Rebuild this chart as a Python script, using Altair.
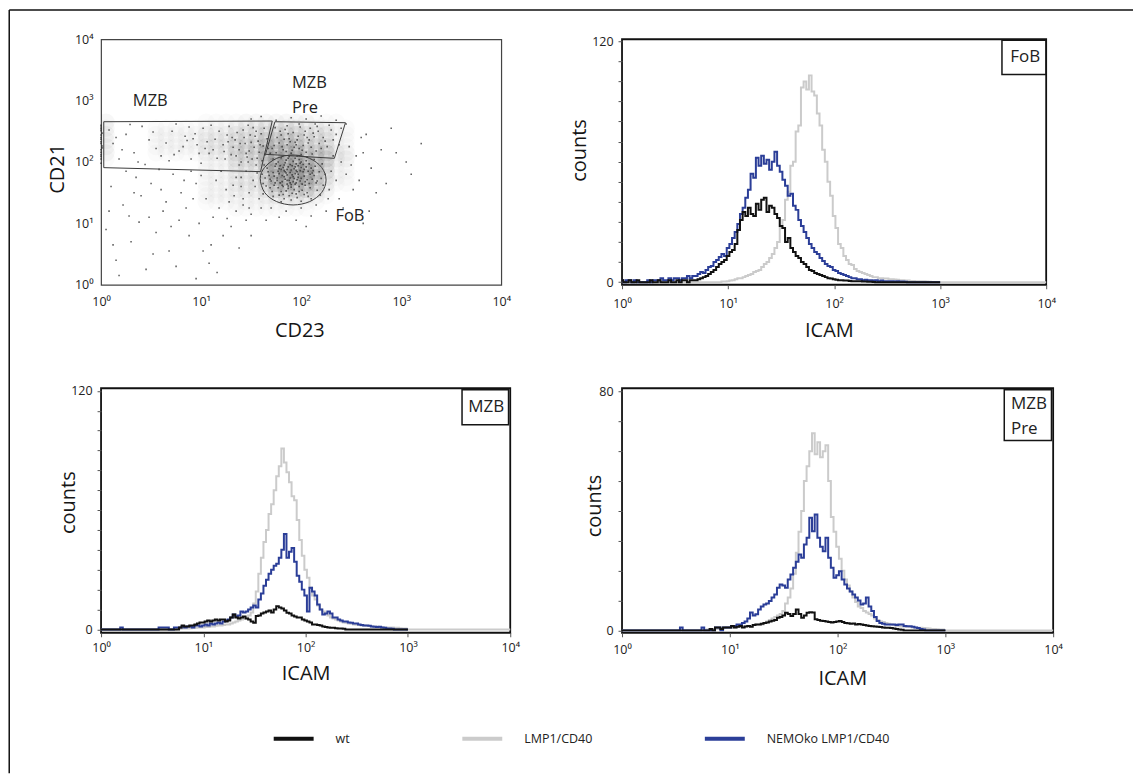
import altair as alt
import pandas as pd

FONT = "Open Sans"
INK = "#151515"

# ---------------- shared axis labelling ----------------
DECADES = [1, 10, 100, 1000, 10000]
DECADE_LABELS = ["10⁰", "10¹", "10²", "10³", "10⁴"]
LABEL_EXPR = "[" + ",".join("'%s'" % s for s in DECADE_LABELS) + "][round(log(datum.value) / LN10)]"

# ---------------- histogram data (log10 ICAM channels, 1/40 decade) ----------------
LOG_CHANNELS = [round(0.025 * i, 3) for i in range(161)]
Z20 = [0] * 20

FOB_NEMO = ([1, 0, 1, 1, 0, 1, 0, 0, 0, 0, 1, 0, 1, 1, 1, 2, 1, 1, 2, 1]
            + [2, 2, 1, 2, 2, 3, 2, 3, 3, 4, 5, 4.5, 6, 7.5, 8, 10, 11, 12.5, 14, 13]
            + [17, 19, 22, 25, 29, 34, 37, 42, 46, 54, 52, 62, 58, 63, 59, 61, 56, 60, 65, 58]
            + [55, 51, 48, 43, 44, 38, 36, 31, 28, 25, 22, 19, 17, 15, 14, 12, 10.5, 9, 8, 7.5]
            + [6, 5.5, 4.5, 4, 3.5, 3, 2.5, 2, 2, 1.5, 1.5, 1, 1.2, 1, 1, 0.8, 1, 0.5, 0.8, 0.5]
            + [0.5, 0.4, 0.5, 0.3, 0.4, 0.3, 0.3, 0.2, 0, 0, 0, 0, 0, 0, 0, 0, 0, 0, 0, 0]
            + [0])
FOB_WT = ([1, 0, 0, 1, 0, 0, 1, 0, 0, 0, 0, 1, 0, 0, 1, 0, 0, 0, 1, 0]
          + [0, 1, 0, 1, 1, 0, 1, 1, 1, 1.5, 2, 2.5, 3, 4, 5, 6, 7.5, 9, 10, 11]
          + [13, 15, 16, 19, 26, 31, 35, 33, 37, 34, 33, 39, 36, 41, 42, 35, 38, 37, 34, 32]
          + [28, 27, 20, 22, 17, 15, 13, 12, 10, 9, 7.5, 6, 5.5, 4.5, 4, 3.5, 3, 2.5, 2, 1.8]
          + [1.5, 1.2, 1, 1, 0.8, 0.8, 0.6, 0.5, 0.5, 0.4, 0.5, 0.3, 0.3, 0.2, 0.2, 0.1, 0, 0, 0, 0]
          + Z20 + [0])
FOB_LMP1 = (Z20
            + [0] * 18 + [0.3, 0.3]
            + [0.5, 0.8, 1, 1.5, 2, 2, 2.5, 3, 3.5, 4, 5, 5.5, 6, 7.5, 9, 10, 12, 14, 17, 20]
            + [27, 31, 41, 45, 58, 60, 75, 78, 97, 100, 96, 103, 95, 93, 84, 78, 66, 60, 50, 43]
            + [33, 27, 19, 17, 13, 11, 9, 8.5, 6.5, 5.5, 5, 4.5, 4, 3.5, 3, 2.5, 2.5, 2, 2, 1.8]
            + [1.8, 1.5, 1.5, 1.3, 1.2, 1, 1, 0.8, 0.8, 0.6, 0.6, 0.5, 0.5, 0.4, 0.4, 0.3, 0.2, 0, 0, 0]
            + [0] * 41)

MZB_LMP1 = (Z20
            + [0] * 10 + [0.3, 0.3, 0.5, 0.5, 0.5, 0.6, 0.8, 0.8, 1, 1]
            + [1, 1.2, 1.2, 1.5, 1.5, 1.8, 2, 2, 2.2, 2.5, 2.5, 3, 3.5, 4, 4.5, 5, 5.5, 6, 7, 8.5]
            + [13, 19, 28, 36, 44, 50, 58, 63, 70, 77, 82, 91, 84, 79, 74, 67, 65, 55, 45, 37]
            + [30, 26, 21, 17, 15, 12, 10, 9, 8, 7, 6, 5.5, 5, 4.5, 4, 3.5, 3.3, 3, 2.8, 2.5]
            + [2.3, 2.2, 2, 1.9, 1.8, 1.7, 1.5, 1.4, 1.3, 1.2, 1.1, 1, 1, 0.9, 0.9, 0.8, 0.8, 0.6, 0.5, 0.4]
            + [0] * 41)
MZB_NEMO = ([0, 0, 0, 0, 0, 0, 0, 0, 1, 0, 0, 0, 0, 0, 0, 0, 0, 0, 0, 0]
            + [0, 0, 0, 1, 1, 1, 1, 0, 0, 1, 1, 1, 1.5, 1, 1.5, 1.5, 1, 2, 2, 1.5]
            + [2, 2.5, 2, 3, 2.5, 3, 3.5, 3, 4, 4.5, 5, 6, 7.5, 6.5, 7, 9, 8.5, 9, 10, 11]
            + [12, 11, 15, 18, 22, 25, 28, 30, 32, 33, 36, 40, 48, 36, 39, 41, 34, 27, 24, 20]
            + [17, 9, 21, 19, 17, 12.5, 10, 7.5, 8, 9, 8, 6, 6, 5, 4.5, 4, 4, 3.5, 3.3, 3]
            + [3, 2.5, 2.2, 2, 2, 1.8, 1.5, 1.3, 1.2, 1.3, 1, 0.8, 0.5, 0.5, 0.3, 0, 0, 0, 0, 0]
            + [0])
MZB_WT = (Z20
          + [0] * 11 + [1, 2, 1.5, 1.5, 2, 2, 2.5, 3, 3.5]
          + [3.5, 4, 4.5, 4, 4.5, 5, 4.5, 5, 5, 4, 4.5, 6, 7.5, 6, 5.5, 6, 6.5, 5.5, 5, 4]
          + [3.3, 6.7, 7, 8, 8.5, 9, 9.5, 8.5, 10, 11.7, 11, 10.5, 9.5, 8.4, 8, 7, 6.5, 6, 6, 5]
          + [4.5, 4, 3.5, 2.5, 2.5, 2.2, 2, 1.5, 1.2, 1, 0.8, 0.8, 0.6, 0.5, 0.5, 0.3, 0, 0, 0, 0]
          + Z20 + [0])

PRE_LMP1 = (Z20
            + [0] * 12 + [0.3, 0.3, 0.5, 0.5, 0.5, 0.8, 0.8, 1]
            + [1, 1, 1, 1.2, 1.2, 1.3, 1.4, 1.5, 1.5, 1.8, 2, 2, 2, 2.5, 3, 3.5, 4, 4.5, 5, 5.5]
            + [6.5, 9, 11, 14, 19, 26, 33, 40, 50, 55, 60, 66, 59, 63, 58, 60, 62, 50, 38, 33]
            + [28, 24, 20, 17, 15, 13, 11, 9.5, 8, 7.5, 6.5, 6, 5.5, 5, 4, 3.5, 3, 2.8, 2.5, 2.2]
            + [2, 1.8, 1.5, 1.4, 1.3, 1.2, 1.2, 1.1, 1, 1, 0.9, 0.9, 0.8, 0.7, 0.6, 0.5, 0.5, 0.4, 0.3, 0.3]
            + [0] * 41)
PRE_NEMO = (Z20
            + [0, 0, 1, 0, 0, 0, 0, 0, 0, 0, 1, 0, 0, 0, 0, 1, 1, 0, 1, 1]
            + [1, 1.5, 1.5, 2, 2, 2.5, 3, 4, 6, 5, 5.4, 7, 8, 8.7, 9, 9.8, 11, 12, 14.3, 15.4]
            + [15, 14.3, 17, 18.7, 21, 23, 25.4, 24.3, 28.8, 31, 37.7, 33.2, 38.8, 31, 28, 26.5, 31, 24.3, 21, 17.6]
            + [18.5, 19.8, 17, 15.4, 14, 13, 12, 11, 10, 8.7, 9, 11, 8, 6.5, 4.5, 3.1, 2.5, 2.2, 2, 2]
            + [2, 2, 1.8, 2, 2, 1.5, 1.4, 1.4, 1.2, 1, 0.8, 0.5, 0.3, 0, 0, 0, 0, 0, 0, 0]
            + [0])
PRE_WT = (Z20
          + [0] * 13 + [0.5, 0, 1, 1, 0.5, 1, 1]
          + [1, 1.5, 1, 1.2, 1.5, 1, 1.3, 1.5, 1.2, 1.8, 2, 2, 2.2, 2.5, 2.6, 3, 3.2, 3.5, 4.2, 4.5]
          + [5, 5.9, 5.5, 4.8, 5.5, 7, 5.5, 4.2, 5, 5.9, 6.1, 6, 3.7, 3.5, 3.2, 3.1, 3, 2.8, 2.6, 2.8]
          + [3, 3.1, 2.8, 2.5, 2.4, 2.2, 2.3, 2, 2.1, 2, 1.8, 1.6, 1.5, 1.4, 1.3, 1.2, 1.1, 1, 0.9, 0.9]
          + [0.8, 0.6, 0.5, 0.3, 0.2] + [0] * 15
          + [0])

GENOTYPES = ["wt", "LMP1/CD40", "NEMOko LMP1/CD40"]
GENO_COLORS = ["#111111", "#cbcbcb", "#2b3e98"]
DRAW_ORDER = ["LMP1/CD40", "NEMOko LMP1/CD40", "wt"]

# ---------------- dot plot data (log10 CD23, log10 CD21) ----------------
DOTS_FOB_CORE = [
    (1.91, 1.79), (1.85, 1.82), (1.97, 1.75), (1.88, 1.70), (2.02, 1.84), (1.80, 1.88), (1.94, 1.92), (1.76, 1.74), (2.06, 1.71), (1.90, 1.63),
    (1.83, 1.95), (1.99, 1.98), (1.72, 1.83), (2.10, 1.90), (1.87, 1.57), (1.95, 1.66), (2.04, 1.62), (1.79, 1.66), (1.92, 2.01), (1.68, 1.78),
    (2.13, 1.78), (1.86, 1.88), (1.96, 1.84), (1.81, 1.78), (2.00, 1.91), (1.74, 1.93), (1.89, 1.96), (2.08, 1.97), (1.93, 1.55), (1.82, 1.60),
    (2.01, 1.54), (1.70, 1.69), (2.15, 1.66), (1.77, 2.00), (1.98, 2.04), (1.87, 2.06), (2.05, 2.02), (1.66, 1.90), (1.84, 1.72), (1.93, 1.73),
    (2.03, 1.77), (1.89, 1.83), (1.78, 1.81), (1.95, 1.86), (2.07, 1.85), (1.73, 1.62), (1.99, 1.69), (1.86, 1.64), (2.11, 1.72), (1.91, 1.49),
    (1.80, 1.52), (2.06, 1.50), (1.69, 1.58), (2.18, 1.84), (1.75, 1.97), (1.97, 1.94), (1.84, 1.99), (2.02, 1.96), (1.90, 1.87), (1.82, 1.91),
    (1.64, 1.74), (2.20, 1.73), (1.88, 1.45), (1.96, 1.42), (1.78, 1.46), (2.09, 1.58), (1.71, 1.52), (2.14, 1.93), (1.62, 1.65), (2.22, 1.62),
    (1.86, 1.79), (1.94, 1.81), (2.00, 1.73), (1.83, 1.76), (1.92, 1.68), (2.04, 1.68), (1.76, 1.70), (1.98, 1.60), (1.87, 1.92), (1.95, 1.97),
    (1.81, 1.68), (2.09, 1.80), (1.73, 1.77), (1.89, 1.74), (1.97, 1.80), (2.05, 1.92), (1.79, 1.94), (1.84, 1.84), (1.93, 1.89), (2.12, 1.86),
    (1.67, 1.84), (1.90, 1.59), (2.01, 1.64), (1.85, 1.53), (1.95, 1.48), (1.77, 1.58), (2.07, 1.44), (1.83, 1.40), (2.16, 1.54), (1.65, 1.61),
    (1.90, 1.38), (2.00, 1.36), (1.80, 1.35), (2.10, 1.40), (1.72, 1.44), (2.19, 1.46), (1.61, 1.80), (2.24, 1.80), (1.63, 1.95), (2.21, 1.97),
    (1.88, 2.09), (1.96, 2.10), (1.80, 2.07), (2.06, 2.08), (1.72, 2.05), (2.13, 2.04), (1.92, 1.76), (1.86, 1.70), (1.99, 1.86), (1.83, 1.86),
    (1.91, 1.94), (2.03, 1.88), (1.78, 1.89), (1.94, 1.64), (1.87, 1.61), (2.08, 1.65), (1.74, 1.66), (1.98, 1.52), (1.82, 1.47), (2.03, 1.47),
    (1.69, 1.72), (2.16, 1.69), (1.94, 2.06), (1.85, 2.03), (2.00, 2.00), (1.77, 1.85), (2.11, 1.82), (1.89, 1.66), (1.96, 1.71), (1.81, 1.62),
]
DOTS_MZB_PRE = [
    (1.75, 2.15), (1.82, 2.20), (1.90, 2.14), (1.98, 2.22), (2.05, 2.16), (1.86, 2.28), (1.94, 2.32), (2.02, 2.27), (2.10, 2.24), (1.78, 2.31),
    (1.71, 2.22), (2.15, 2.18), (1.88, 2.38), (1.97, 2.42), (2.08, 2.36), (1.80, 2.44), (2.18, 2.30), (1.92, 2.48), (2.04, 2.50), (2.22, 2.40),
    (1.84, 2.53), (1.99, 2.57), (2.12, 2.47), (2.26, 2.25), (1.76, 2.40), (2.30, 2.52), (2.16, 2.58), (1.93, 2.24), (1.85, 2.17), (2.00, 2.12),
    (2.07, 2.31), (1.73, 2.27), (1.89, 2.33), (2.13, 2.41), (1.96, 2.36), (1.81, 2.25), (2.20, 2.22), (1.69, 2.14), (2.03, 2.44), (1.91, 2.19),
    (2.09, 2.55), (1.87, 2.46), (2.24, 2.34), (1.79, 2.50), (2.35, 2.45), (1.95, 2.28), (2.01, 2.19), (1.83, 2.37), (2.11, 2.13), (2.17, 2.50),
    (1.67, 2.30), (2.28, 2.60), (1.98, 2.62), (1.86, 2.59), (2.06, 2.40), (2.40, 2.55), (2.14, 2.62), (1.74, 2.56), (2.32, 2.36), (2.38, 2.28),
]
DOTS_MZB = [
    (0.00, 2.05), (0.00, 2.12), (0.00, 2.20), (0.01, 2.26), (0.00, 2.33), (0.00, 2.40), (0.01, 2.47), (0.00, 2.54), (0.00, 2.60), (0.00, 2.09),
    (0.00, 2.16), (0.00, 2.30), (0.00, 2.37), (0.00, 2.44), (0.00, 2.51), (0.00, 2.57), (0.01, 2.23), (0.00, 1.98),
    (0.12, 2.30), (0.25, 2.45), (0.33, 2.15), (0.41, 2.58), (0.18, 2.05), (0.48, 2.36), (0.55, 2.22), (0.08, 2.52), (0.29, 2.61), (0.37, 2.00),
    (0.52, 2.49), (0.60, 2.10), (0.21, 2.20), (0.44, 1.96), (0.15, 2.40),
    (0.65, 2.31), (0.71, 2.50), (0.78, 2.18), (0.84, 2.42), (0.90, 2.05), (0.96, 2.28), (1.02, 2.55), (1.08, 2.14), (1.14, 2.37), (0.68, 2.02),
    (0.75, 2.62), (0.82, 2.25), (0.88, 2.57), (0.94, 2.46), (1.00, 1.98), (1.06, 2.33), (1.12, 2.20), (1.18, 2.50), (0.73, 2.12), (0.86, 2.35),
    (0.98, 2.14), (1.10, 2.60), (1.16, 2.06), (0.92, 2.38), (1.04, 2.22),
    (1.22, 2.28), (1.26, 2.44), (1.30, 2.12), (1.34, 2.36), (1.38, 2.20), (1.42, 2.52), (1.46, 2.08), (1.50, 2.32), (1.54, 2.42), (1.58, 2.16),
    (1.62, 2.26), (1.66, 2.38), (1.24, 2.05), (1.28, 2.58), (1.32, 2.24), (1.36, 2.48), (1.40, 2.00), (1.44, 2.30), (1.48, 2.18), (1.52, 2.56),
    (1.56, 2.06), (1.60, 2.46), (1.64, 2.12), (1.23, 2.17), (1.35, 2.10), (1.43, 2.40), (1.47, 2.60), (1.53, 2.24), (1.57, 2.34), (1.61, 2.02),
    (1.67, 2.22), (1.31, 2.40), (1.39, 2.30), (1.45, 2.14), (1.51, 2.05), (1.55, 2.50), (1.59, 2.28), (1.63, 2.55), (1.27, 2.33), (1.49, 2.44),
]
DOTS_HALO = [
    (1.45, 1.85), (1.52, 1.70), (1.40, 1.60), (1.55, 1.95), (1.35, 1.75), (1.48, 1.50), (1.58, 1.40), (1.42, 1.30), (1.60, 1.25), (1.50, 1.15),
    (2.30, 1.85), (2.35, 1.70), (2.40, 2.00), (2.28, 1.55), (2.45, 1.80), (2.50, 1.95), (2.38, 1.40), (2.55, 2.10), (2.32, 2.10), (2.48, 2.25),
    (1.70, 1.25), (1.85, 1.20), (2.00, 1.25), (2.15, 1.30), (1.78, 1.10), (1.95, 1.05), (2.10, 1.12), (2.25, 1.20), (1.65, 1.05), (2.05, 0.95),
    (1.90, 2.72), (2.05, 2.70), (1.75, 2.68), (2.20, 2.75), (1.60, 2.74), (2.35, 2.68), (2.45, 2.62), (1.50, 2.70), (2.60, 2.40), (2.52, 1.55),
    (1.38, 1.95), (1.33, 1.45), (1.56, 1.82), (1.47, 2.00), (2.42, 1.25), (2.58, 1.70), (2.62, 2.15), (1.62, 1.48), (2.27, 1.40), (1.54, 1.60),
]
DOTS_LOW = [
    (0.10, 1.60), (0.22, 1.30), (0.35, 1.75), (0.05, 0.90), (0.48, 1.10), (0.60, 1.55), (0.15, 0.40), (0.72, 1.80), (0.30, 0.70), (0.85, 1.25),
    (0.40, 1.45), (0.95, 1.65), (0.55, 0.85), (1.05, 1.40), (0.68, 0.55), (1.15, 1.70), (0.78, 1.05), (1.25, 1.55), (0.88, 0.80), (1.35, 1.20),
    (0.98, 1.00), (1.10, 0.65), (1.20, 1.85), (1.30, 0.95), (1.40, 1.75), (0.25, 1.85), (0.45, 0.25), (0.62, 1.20), (0.80, 1.50), (1.00, 1.78),
    (1.12, 1.10), (1.28, 1.35), (0.08, 1.20), (0.18, 0.15), (0.38, 1.02), (0.58, 1.88), (0.75, 0.30), (0.92, 1.40), (1.08, 0.35), (1.22, 0.80),
    (1.32, 1.62), (1.45, 1.05), (0.50, 1.65), (0.70, 0.95), (0.90, 1.85), (1.18, 1.25), (1.38, 0.60), (1.50, 0.80), (0.28, 1.12), (0.65, 1.35),
    (1.02, 0.55), (1.42, 1.40), (0.83, 1.70), (1.26, 1.08), (0.12, 0.65), (0.33, 1.50), (1.16, 0.20), (0.95, 0.10), (0.52, 0.50), (1.48, 1.25),
]
DOTS_FAR = [
    (2.70, 1.90), (2.80, 2.20), (2.95, 2.15), (3.05, 2.00), (2.75, 1.50), (2.65, 2.45), (3.10, 1.80), (2.85, 1.65), (2.68, 1.20), (3.20, 2.30),
    (2.90, 2.55), (2.62, 1.00),
]

# event density (level 0-9) read per 0.1 x 0.1 decade cell; rows from log CD21 2.9 down to 1.2,
# columns from log CD23 0.0 to 3.3
DENSITY_TOP_LOG_CD21 = 2.9
DENSITY_ROWS = [
    "0000000000000000000000000000000000",
    "0000000000000000000000000000000000",
    "0000000000000011111111110000000000",
    "3111111111222233333332221100000000",
    "3111122222222333444433322110000000",
    "3111122222333444555544422110000000",
    "3111122222333444666644422110000000",
    "3111122222333555777755522110000000",
    "3111122222333555888866633110000000",
    "2111111111222444888866633110000000",
    "1111111111222444699997522110000000",
    "0111111111222333699997522110000000",
    "0111111111222333699997422100000000",
    "0111111111222333588886322100000000",
    "0111111111222333466665311000000000",
    "0111111111222222344443211000000000",
    "0111111111222222222222111000000000",
    "0111111111111222222221110000000000",
]

# gates (log10 CD23, log10 CD21) and gate labels (CD23, CD21)
GATE_MZB = [(0.027, 2.656), (1.711, 2.667), (1.594, 1.843), (0.027, 1.908), (0.027, 2.656)]
GATE_PRE = [(1.738, 2.656), (2.443, 2.640), (2.332, 2.060), (1.644, 2.125), (1.738, 2.656)]
GATE_FOB = [(2.249, 1.707), (2.205, 1.911), (2.085, 2.059), (1.920, 2.114), (1.755, 2.059), (1.635, 1.911),
            (1.591, 1.734), (1.635, 1.503), (1.755, 1.355), (1.920, 1.300), (2.085, 1.355), (2.205, 1.503)]
GATE_LABELS = ["MZB", "MZB", "Pre", "FoB"]
GATE_LABEL_CD23 = [2.08, 81.1, 81.1, 220]
GATE_LABEL_CD21 = [977, 1950, 764, 13.4]

# ---------------- layout numbers (pixels) ----------------
P1_W, P1_H = 401, 246
P2_W, P2_H = 425, 246
P3_W, P3_H = 410, 245
P4_W, P4_H = 432, 245

LEGEND = alt.Legend(
    title=None, orient="none", legendX=171, legendY=679, direction="horizontal",
    symbolType="stroke", symbolSize=1600, symbolStrokeWidth=4,
    labelFont=FONT, labelFontSize=12.5, labelColor="#222", labelOffset=20,
    columnPadding=104, padding=0,
)
COLOR = alt.Color("genotype:N", scale=alt.Scale(domain=GENOTYPES, range=GENO_COLORS), legend=LEGEND)

ONE = pd.DataFrame({"k": [0]})


def decade_axis(title, tx, ty, tick, pad, vertical=False):
    return alt.Axis(
        values=DECADES, labelExpr=LABEL_EXPR, title=title, titleX=tx, titleY=ty,
        titleBaseline="middle", titleAlign="center", titleAngle=270 if vertical else 0,
        titleFontSize=20, titleFontWeight="normal", titleColor=INK, titleFont=FONT,
        tickSize=tick, tickColor="#555", labelPadding=pad, labelFontSize=12.5, labelColor="#222",
        labelFont=FONT, labelFlush=False, labelOverlap=False, domain=False, grid=False,
    )


def count_axis(top, tx, ty, pad):
    return alt.Axis(
        values=list(range(0, top + 1, 10)),
        labelExpr="datum.value == 0 || datum.value == %d ? datum.label : ''" % top,
        title="counts", titleX=tx, titleY=ty, titleBaseline="middle", titleAlign="center", titleAngle=270,
        titleFontSize=20, titleFontWeight="normal", titleColor=INK, titleFont=FONT,
        tickSize=4, tickColor="#555", labelPadding=pad, labelFontSize=12.5, labelColor="#222",
        labelFont=FONT, labelOverlap=False, domain=False, grid=False,
    )


# ---------------- panel 1: CD23 x CD21 dot plot ----------------
def dots_frame():
    rows = []
    for region in (DOTS_LOW, DOTS_MZB, DOTS_HALO, DOTS_MZB_PRE, DOTS_FOB_CORE, DOTS_FAR):
        for lx, ly in region:
            rows.append({"CD23": 10 ** lx, "CD21": 10 ** ly})
    return pd.DataFrame(rows)


def density_frame():
    rows = []
    for r, line in enumerate(DENSITY_ROWS):
        ly = DENSITY_TOP_LOG_CD21 - 0.1 * r + 0.05
        for c, ch in enumerate(line):
            if ch != "0":
                rows.append({"CD23": 10 ** (0.1 * c + 0.05), "CD21": 10 ** ly, "level": int(ch)})
    return pd.DataFrame(rows)


def gate_frame(name, verts):
    return pd.DataFrame([{"gate": name, "i": i, "CD23": 10 ** lx, "CD21": 10 ** ly} for i, (lx, ly) in enumerate(verts)])


x1 = alt.X("CD23:Q", scale=alt.Scale(type="log", domain=[1, 10000], nice=False),
           axis=decade_axis("CD23", 198.7, 45.5, 0, 11))
y1 = alt.Y("CD21:Q", scale=alt.Scale(type="log", domain=[1, 10000], nice=False),
           axis=decade_axis("CD21", -43.3, 129.4, 0, 8, vertical=True))

fog = alt.Chart(density_frame()).mark_circle(size=300, color="#4a4a4a", clip=True).encode(
    x=x1, y=y1, opacity=alt.Opacity("level:Q", scale=alt.Scale(domain=[1, 9], range=[0.0, 0.18]), legend=None))
dots = alt.Chart(dots_frame()).mark_square(size=2.5, color="#222", opacity=0.7).encode(x=x1, y=y1)
polys = alt.Chart(pd.concat([gate_frame("MZB", GATE_MZB), gate_frame("Pre", GATE_PRE)])).mark_line(
    color="#3c3c3c", strokeWidth=1).encode(x=x1, y=y1, detail="gate:N", order="i:Q")
ellipse = alt.Chart(gate_frame("FoB", GATE_FOB)).mark_line(
    color="#3c3c3c", strokeWidth=1, interpolate="cardinal-closed").encode(x=x1, y=y1, order="i:Q")
gate_text = alt.Chart(pd.DataFrame({"label": GATE_LABELS, "CD23": GATE_LABEL_CD23, "CD21": GATE_LABEL_CD21})).mark_text(
    align="left", baseline="middle", font=FONT, fontSize=16.5, color="#222").encode(x=x1, y=y1, text="label:N")

frame_top = alt.Chart(ONE).mark_rule(color="#111", strokeWidth=1.5).encode(
    x=alt.value(-92), x2=alt.value(1034), y=alt.value(-29.3))
frame_left = alt.Chart(ONE).mark_rule(color="#111", strokeWidth=1.5).encode(
    x=alt.value(-92), y=alt.value(-29.3), y2=alt.value(735.5))

p1 = alt.layer(fog, dots, polys, ellipse, gate_text, frame_top, frame_left).properties(
    width=P1_W, height=P1_H, view=alt.ViewBackground(stroke="#444", strokeWidth=1.2))


# ---------------- histogram panels ----------------
def hist_panel(series, ydom, top, w, h, xt, yt, xpad, ypad, box, lines, text_xy, text_align):
    rows = []
    for g, vals in series.items():
        for lg, c in zip(LOG_CHANNELS, vals):
            rows.append({"ICAM": 10 ** lg, "counts": c, "genotype": g})
    df = pd.DataFrame(rows)
    x = alt.X("ICAM:Q", scale=alt.Scale(type="log", domain=[1, 10000], nice=False),
              axis=decade_axis("ICAM", xt[0], xt[1], 4, xpad))
    y = alt.Y("counts:Q", scale=alt.Scale(domain=ydom, nice=False, zero=False),
              axis=count_axis(top, yt[0], yt[1], ypad))
    layers = []
    for g in DRAW_ORDER:
        layers.append(alt.Chart(df[df.genotype == g]).mark_line(interpolate="step", strokeWidth=2).encode(
            x=x, y=y, color=COLOR))
    rect = alt.Chart(ONE).mark_rect(fill="white", stroke=INK, strokeWidth=1.5).encode(
        x=alt.value(box[0]), x2=alt.value(box[1]), y=alt.value(box[2]), y2=alt.value(box[3]))
    txt = alt.Chart(ONE).mark_text(font=FONT, fontSize=17, color="#222", align=text_align, baseline="middle",
                                   lineBreak="\n", lineHeight=24.6).encode(
        x=alt.value(text_xy[0]), y=alt.value(text_xy[1]), text=alt.value(lines))
    return alt.layer(*layers, rect, txt).properties(
        width=w, height=h, view=alt.ViewBackground(stroke="#111", strokeWidth=1.8))


p2 = hist_panel({"wt": FOB_WT, "LMP1/CD40": FOB_LMP1, "NEMOko LMP1/CD40": FOB_NEMO},
                [-1.3, 121], 120, P2_W, P2_H, (207.3, 45.7), (-42.7, 111), 9, 5,
                (P2_W - 44.3, P2_W - 0.3, 1, 35.4), "FoB", (P2_W - 21, 17.7), "center")
p3 = hist_panel({"wt": MZB_WT, "LMP1/CD40": MZB_LMP1, "NEMOko LMP1/CD40": MZB_NEMO},
                [-1.7, 121.3], 120, P3_W, P3_H, (205, 41.1), (-32.7, 114.1), 5, 5,
                (P3_W - 48.3, P3_W - 1.7, 1.6, 36.6), "MZB", (P3_W - 24, 18.3), "center")
p4 = hist_panel({"wt": PRE_WT, "LMP1/CD40": PRE_LMP1, "NEMOko LMP1/CD40": PRE_NEMO},
                [-0.8, 81.1], 80, P4_W, P4_H, (220.7, 46.3), (-27.5, 117.5), 7, 5,
                (P4_W - 49, P4_W - 1.7, 1.6, 52.3), "MZB\nPre", (P4_W - 42.3, 16), "left")

chart = alt.concat(
    p1, p2, p3, p4, columns=2,
    spacing={"row": 103.7, "column": 112},
    bounds="flush",
).properties(
    padding={"left": 7.25, "top": 7.55, "right": 0, "bottom": 0},
    background="white",
).configure_view(stroke=None).configure_text(font=FONT)

chart.save("out.html", embed_options={"renderer": "svg", "actions": False})
